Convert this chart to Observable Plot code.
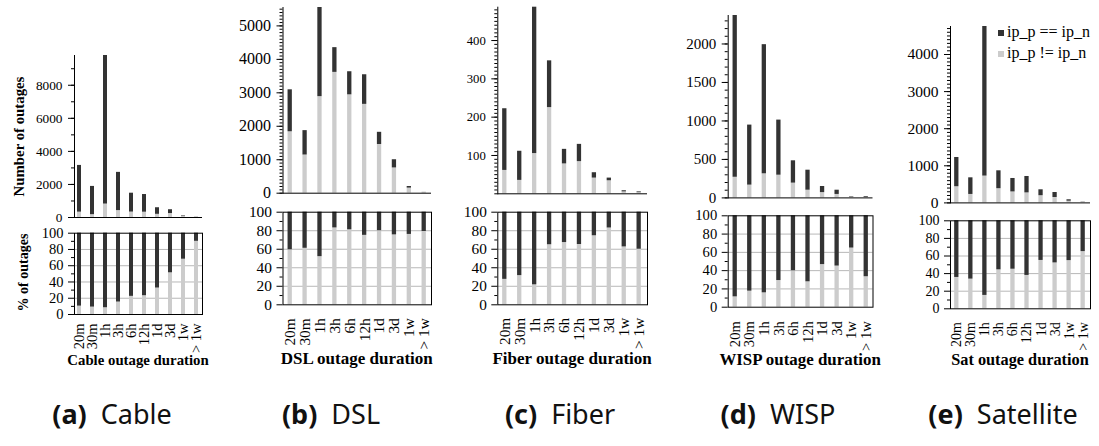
<!DOCTYPE html>
<html>
<head>
<meta charset="utf-8">
<script src="https://cdn.jsdelivr.net/npm/d3@7"></script>
<script src="https://cdn.jsdelivr.net/npm/@observablehq/plot@0.6"></script>
<style>
  body { margin: 0; background: #fff; }
  #fig { position: relative; width: 1099px; height: 446px; overflow: hidden; background: #fff; }
  #fig svg { position: absolute; left: 0; top: 0; }
  #fig svg text { font-family: 'Liberation Serif', 'Times New Roman', serif; }
  .cap { position: absolute; top: 395px; font-family: "Noto Sans", sans-serif; font-size: 27px; white-space: nowrap; transform: translateX(-50%); color: #111; }
  .cap b { font-weight: 700; margin-right: 14px; }
</style>
</head>
<body>
<div id="fig"></div>
<script>
// Outage duration bins
const durations = ["20m", "30m", "1h", "3h", "6h", "12h", "1d", "3d", "1w", "> 1w"];
const seriesNames = ["ip_p == ip_n", "ip_p != ip_n"];

// Number of outages per bin: address unchanged (same) / changed (diff)
const cableSame = [2826, 1709, 8987, 2312, 1142, 1069, 398, 229, 32, 4];
const cableDiff = [324, 171, 813, 418, 328, 321, 192, 241, 68, 36];
const dslSame = [1254, 729, 2664, 739, 690, 885, 364, 245, 48, 5];
const dslDiff = [1836, 1141, 2886, 3611, 2940, 2655, 1456, 755, 152, 19];
const fiberSame = [161, 76, 382, 122, 38, 45, 14, 7, 3, 2];
const fiberDiff = [61, 35, 105, 225, 78, 84, 41, 34, 5, 3];
const wispSame = [2102, 780, 1678, 716, 290, 260, 79, 55, 6, 10];
const wispDiff = [268, 166, 313, 295, 192, 100, 69, 45, 11, 5];
const satSame = [788, 448, 4032, 482, 362, 442, 159, 134, 38, 7];
const satDiff = [436, 228, 723, 383, 296, 270, 194, 146, 46, 13];

// Axis ticks
const cableTicks = [0, 2000, 4000, 6000, 8000];
const dslTicks = [0, 1000, 2000, 3000, 4000, 5000];
const fiberTicks = [100, 200, 300, 400];
const wispTicks = [0, 500, 1000, 1500, 2000];
const satTicks = [0, 1000, 2000, 3000, 4000];
const pctTicks = [0, 20, 40, 60, 80, 100];
const pctMinor = [10, 30, 50, 70, 90];
const pctGrid = [20, 40, 60, 80];

const W = 1099, H = 446;
const dark = "#333333", light = "#cccccc";
const serif = "'Liberation Serif', 'Times New Roman', serif";

// Geometry of each subfigure (pixel frame of the two stacked charts)
const panels = [
  {name: "Cable", caption: ["(a)", "Cable"], capX: 112, same: cableSame, diff: cableDiff,
   ticks: cableTicks, minorStep: 1000, left: 74, right: 202, c0: 79, step: 13, bw: 4,
   top: 55, zero: 217, pTop: 232.7, pZero: 314, fsTop: 13.3, fsBot: 14.5, fsTitle: 14.8, pad: 9, titleY: 365},
  {name: "DSL", caption: ["(b)", "DSL"], capX: 331, same: dslSame, diff: dslDiff,
   ticks: dslTicks, minorStep: 100, left: 282.5, right: 431, c0: 289.7, step: 14.89, bw: 4.3,
   top: 7, zero: 192.7, pTop: 211.7, pZero: 304.3, fsTop: 16, fsBot: 15.4, fsTitle: 17, pad: 13.4, titleY: 364.3},
  {name: "Fiber", caption: ["(c)", "Fiber"], capX: 560, same: fiberSame, diff: fiberDiff,
   ticks: fiberTicks, minorStep: 10, left: 497.3, right: 647, c0: 504.3, step: 14.93, bw: 4.3,
   top: 6.7, zero: 193.3, pTop: 211.7, pZero: 304.3, fsTop: 12.7, fsBot: 15.3, fsTitle: 17, pad: 13, titleY: 364.3},
  {name: "WISP", caption: ["(d)", "WISP"], capX: 778, same: wispSame, diff: wispDiff,
   ticks: wispTicks, minorStep: 100, left: 727.7, right: 872.5, c0: 734.7, step: 14.56, bw: 4.3,
   top: 15, zero: 197.4, pTop: 215.3, pZero: 306.7, fsTop: 15, fsBot: 14.6, fsTitle: 16.9, pad: 14, titleY: 364.5},
  {name: "Sat", caption: ["(e)", "Satellite"], capX: 1003, same: satSame, diff: satDiff,
   ticks: satTicks, minorStep: 100, left: 950, right: 1090, c0: 956.3, step: 14.04, bw: 4.3,
   top: 26, zero: 202.4, pTop: 220.3, pZero: 308.3, fsTop: 15.5, fsBot: 14, fsTitle: 16.3, pad: 13.4, titleY: 365}
];

const fig = document.getElementById("fig");
const svgStyle = `background: transparent; overflow: visible; font-family: ${serif}; color: #000;`;
const plain = d => String(d);

function xScale(p) {
  const pin = 1 - p.bw / p.step;
  const r0 = p.c0 - p.step / 2;
  return {domain: durations, range: [r0, r0 + p.step * durations.length],
          paddingInner: pin, paddingOuter: pin / 2, align: 0.5, round: false, axis: null};
}

function rowsFor(p) {
  const rows = [];
  durations.forEach((d, i) => {
    const total = p.same[i] + p.diff[i];
    rows.push({dur: d, series: seriesNames[1], n: p.diff[i], pct: 100 * p.diff[i] / total});
    rows.push({dur: d, series: seriesNames[0], n: p.same[i], pct: 100 * p.same[i] / total});
  });
  return rows;
}

panels.forEach(p => {
  const rows = rowsFor(p);
  const totals = durations.map((d, i) => p.same[i] + p.diff[i]);
  const ymax = d3.max(totals);
  const color = {domain: seriesNames, range: [dark, light]};

  // Counts: stacked bars
  const counts = Plot.plot({
    width: W, height: H,
    marginLeft: p.left, marginRight: W - p.right, marginTop: p.top, marginBottom: H - p.zero,
    style: svgStyle,
    x: xScale(p),
    y: {domain: [0, ymax], range: [p.zero, p.top], axis: null, label: null},
    color,
    marks: [
      Plot.barY(rows, {x: "dur", y: "n", fill: "series", inset: 0}),
      Plot.axisY({ticks: d3.range(0, ymax + 1e-9, p.minorStep), tickSize: 3, tickFormat: () => "", label: null}),
      Plot.axisY({ticks: p.ticks, tickSize: 6, tickPadding: 6, tickFormat: plain, fontSize: p.fsTop, fontFamily: serif, label: null}),
      Plot.ruleY([0], {stroke: "#000"}),
      Plot.frame({anchor: "left", stroke: "#000"})
    ]
  });
  fig.appendChild(counts);

  // Shares: 100% stacked bars
  const shares = Plot.plot({
    width: W, height: H,
    marginLeft: p.left, marginRight: W - p.right, marginTop: p.pTop, marginBottom: H - p.pZero,
    style: svgStyle,
    x: xScale(p),
    y: {domain: [0, 100], range: [p.pZero, p.pTop], axis: null, label: null},
    color,
    marks: [
      Plot.gridY(pctGrid, {stroke: "#b8b8b8", strokeOpacity: 1}),
      Plot.barY(rows, {x: "dur", y: "pct", fill: "series", inset: 0}),
      Plot.axisY({ticks: pctMinor, tickSize: 3, tickFormat: () => "", label: null}),
      Plot.axisY({ticks: pctTicks, tickSize: 6, tickPadding: 5, tickFormat: plain, fontSize: p.fsBot, fontFamily: serif, label: null}),
      Plot.axisX({tickRotate: -90, tickSize: 0, tickPadding: p.pad, fontSize: p.fsBot, fontFamily: serif, label: null}),
      Plot.frame({stroke: "#000"})
    ]
  });
  fig.appendChild(shares);
});

// Titles, legend and sub-captions
const ann = d3.select(fig).append("svg")
  .attr("width", W).attr("height", H)
  .style("font-family", serif);

panels.forEach(p => {
  ann.append("text")
    .attr("x", (p.left + p.right) / 2).attr("y", p.titleY)
    .attr("text-anchor", "middle").attr("font-weight", "bold")
    .attr("font-size", p.fsTitle).text(`${p.name} outage duration`);
});

ann.append("text")
  .attr("transform", "translate(23.5,136.5) rotate(-90)")
  .attr("text-anchor", "middle").attr("font-weight", "bold").attr("font-size", 14.8)
  .text("Number of outages");
ann.append("text")
  .attr("transform", "translate(28,272.5) rotate(-90)")
  .attr("text-anchor", "middle").attr("font-weight", "bold").attr("font-size", 14)
  .text("% of outages");

const legend = ann.append("g").attr("transform", "translate(998,0)");
seriesNames.forEach((s, i) => {
  const y = 33 + i * 21;
  legend.append("rect").attr("x", 0).attr("y", y - 3).attr("width", 6).attr("height", 6)
    .attr("fill", i === 0 ? dark : light);
  legend.append("text").attr("x", 9).attr("y", y + 4).attr("font-size", 16).text(s);
});

panels.forEach(p => {
  const c = document.createElement("div");
  c.className = "cap";
  c.style.left = p.capX + "px";
  c.innerHTML = `<b>${p.caption[0]}</b>${p.caption[1]}`;
  fig.appendChild(c);
});
</script>
</body>
</html>
